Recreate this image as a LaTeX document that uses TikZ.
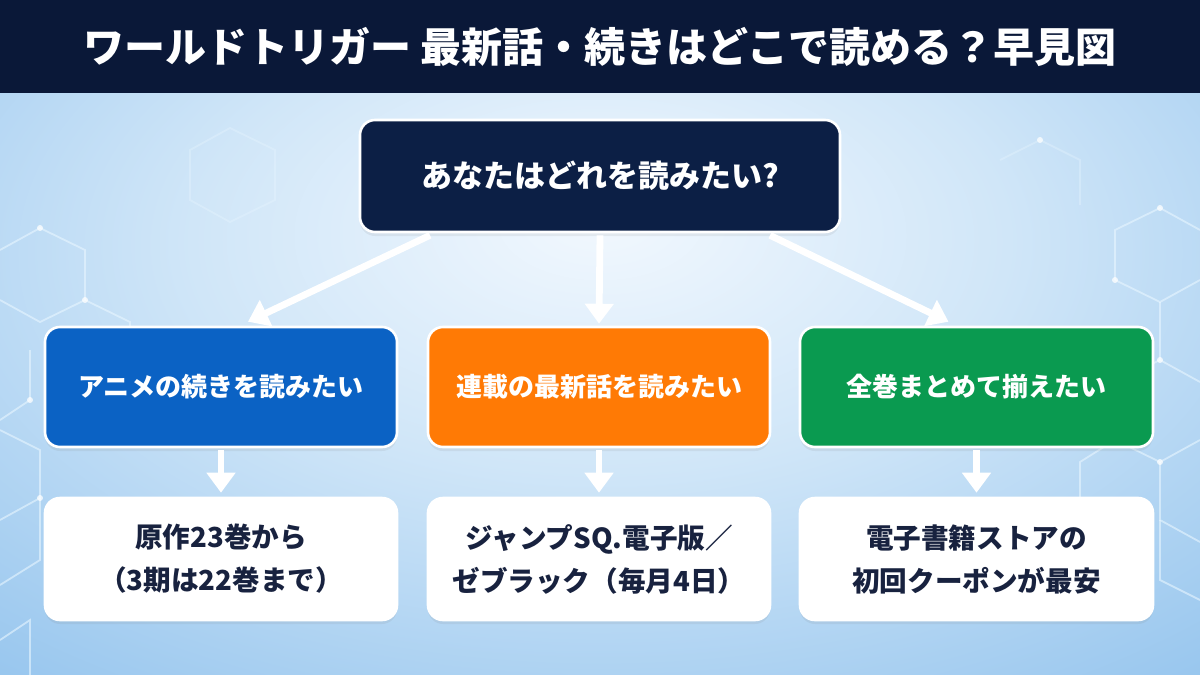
\documentclass[tikz,border=0pt]{standalone}
\usepackage{fontspec}
\setmainfont{Noto Sans CJK JP}
\usetikzlibrary{arrows.meta,shadows,calc}
\definecolor{titlebg}{HTML}{0A1838}
\definecolor{topbg}{HTML}{0C1F45}
\definecolor{boxblue}{HTML}{0B62C4}
\definecolor{boxorange}{HTML}{FF7A05}
\definecolor{boxgreen}{HTML}{0A9A50}
\definecolor{darktext}{HTML}{18223F}
\definecolor{bgin}{HTML}{F2F8FE}
\definecolor{bgmid}{HTML}{D0E6F8}
\definecolor{bgout}{HTML}{86BCEB}
\definecolor{hexline}{HTML}{E8F6FF}
\pgfdeclareradialshading{bgshade}{\pgfpoint{0bp}{9bp}}{color(0bp)=(bgin); color(17bp)=(bgmid); color(46bp)=(bgout); color(80bp)=(bgout)}
\tikzset{
  basebox/.style={rounded corners=7.5pt, draw=white, line width=1.3pt, align=center,
    font=\bfseries\fontsize{13}{20}\selectfont,
    drop shadow={opacity=0.12, shadow xshift=0pt, shadow yshift=-2pt}},
  colbox/.style={basebox, text=white, minimum height=60pt},
  ansbox/.style={basebox, fill=white, text=darktext, minimum height=61pt, font=\bfseries\fontsize{13.8}{21.5}\selectfont},
  arr/.style={draw=white, line width=3.4pt, -{Triangle[width=14pt,length=10pt]}},
  hex/.style={draw=hexline, line width=0.9pt, opacity=0.6},
  glow/.style={fill=white, opacity=0.75}
}
\begin{document}
\begin{tikzpicture}[x=0.5pt,y=-0.5pt]
\useasboundingbox (0,0) rectangle (1200,675);
\shade[shading=bgshade] (0,0) rectangle (1200,675);
% faint hexagonal network
\draw[hex] (0,250) -- (40,228) -- (85,250) -- (85,300) -- (40,322) -- (0,300);
\draw[hex] (85,300) -- (130,322) -- (130,372);
\draw[hex] (0,420) -- (30,400) -- (30,350);
\draw[hex] (0,520) -- (40,498) -- (40,450) -- (0,430);
\draw[hex] (40,498) -- (40,560) -- (0,585);
\draw[hex] (0,640) -- (30,620) -- (30,675);
\draw[hex, opacity=0.35] (190,150) -- (230,128) -- (275,150) -- (275,200) -- (230,222) -- (190,200) -- cycle;
\draw[hex] (1200,230) -- (1160,208) -- (1115,230) -- (1115,280);
\draw[hex] (1115,280) -- (1160,302) -- (1200,280);
\draw[hex] (1160,302) -- (1160,360) -- (1200,382);
\draw[hex] (1160,360) -- (1115,382) -- (1115,440) -- (1080,462) -- (1080,520);
\draw[hex] (1115,440) -- (1160,462) -- (1200,440);
\draw[hex] (1160,462) -- (1160,520) -- (1200,542);
\draw[hex] (1160,520) -- (1160,580) -- (1200,600);
\draw[hex, opacity=0.35] (1000,160) -- (1040,140) -- (1080,160) -- (1080,205);
\foreach \p in {(40,228),(85,300),(30,400),(40,498),(1160,208),(1115,280),(1160,360),(1115,440),(1160,462),(1080,520),(1040,140)}
  \fill[glow] \p circle (3);
% title bar
\fill[titlebg] (0,0) rectangle (1200,93);
\node[text=white, font=\bfseries\fontsize{20.5}{26}\selectfont] (title) at (600,47) {ワールドトリガー 最新話・続きはどこで読める？早見図};
% question node
\node[basebox, fill=topbg, text=white, minimum width=240pt, minimum height=56pt,
  font=\bfseries\fontsize{15.5}{20}\selectfont] (top) at (600,176) {あなたはどれを読みたい?};
% option boxes
\node[colbox, fill=boxblue, minimum width=176pt] (b1) at (221,387) {アニメの続きを読みたい};
\node[colbox, fill=boxorange, minimum width=171pt] (b2) at (599,387) {連載の最新話を読みたい};
\node[colbox, fill=boxgreen, minimum width=176.5pt] (b3) at (976.5,387) {全巻まとめて揃えたい};
% answer boxes
\node[ansbox, minimum width=176pt] (c1) at (221,559) {原作23巻から\\（3期は22巻まで）};
\node[ansbox, minimum width=171pt] (c2) at (599,559) {ジャンプSQ.電子版／\\ゼブラック（毎月4日）};
\node[ansbox, minimum width=176.5pt] (c3) at (976.5,559) {電子書籍ストアの\\初回クーポンが最安};
% arrows
\draw[arr] ([xshift=-85pt,yshift=-1pt]top.south) -- ([xshift=13.5pt,yshift=2pt]b1.north);
\draw[arr] ([yshift=-1pt]top.south) -- ([yshift=1pt]b2.north);
\draw[arr] ([xshift=85pt,yshift=-1pt]top.south) -- ([xshift=-14pt,yshift=2pt]b3.north);
\draw[arr] ([yshift=-1pt]b1.south) -- ([yshift=2pt]c1.north);
\draw[arr] ([yshift=-1pt]b2.south) -- ([yshift=2pt]c2.north);
\draw[arr] ([yshift=-1pt]b3.south) -- ([yshift=2pt]c3.north);
\end{tikzpicture}
\end{document}
